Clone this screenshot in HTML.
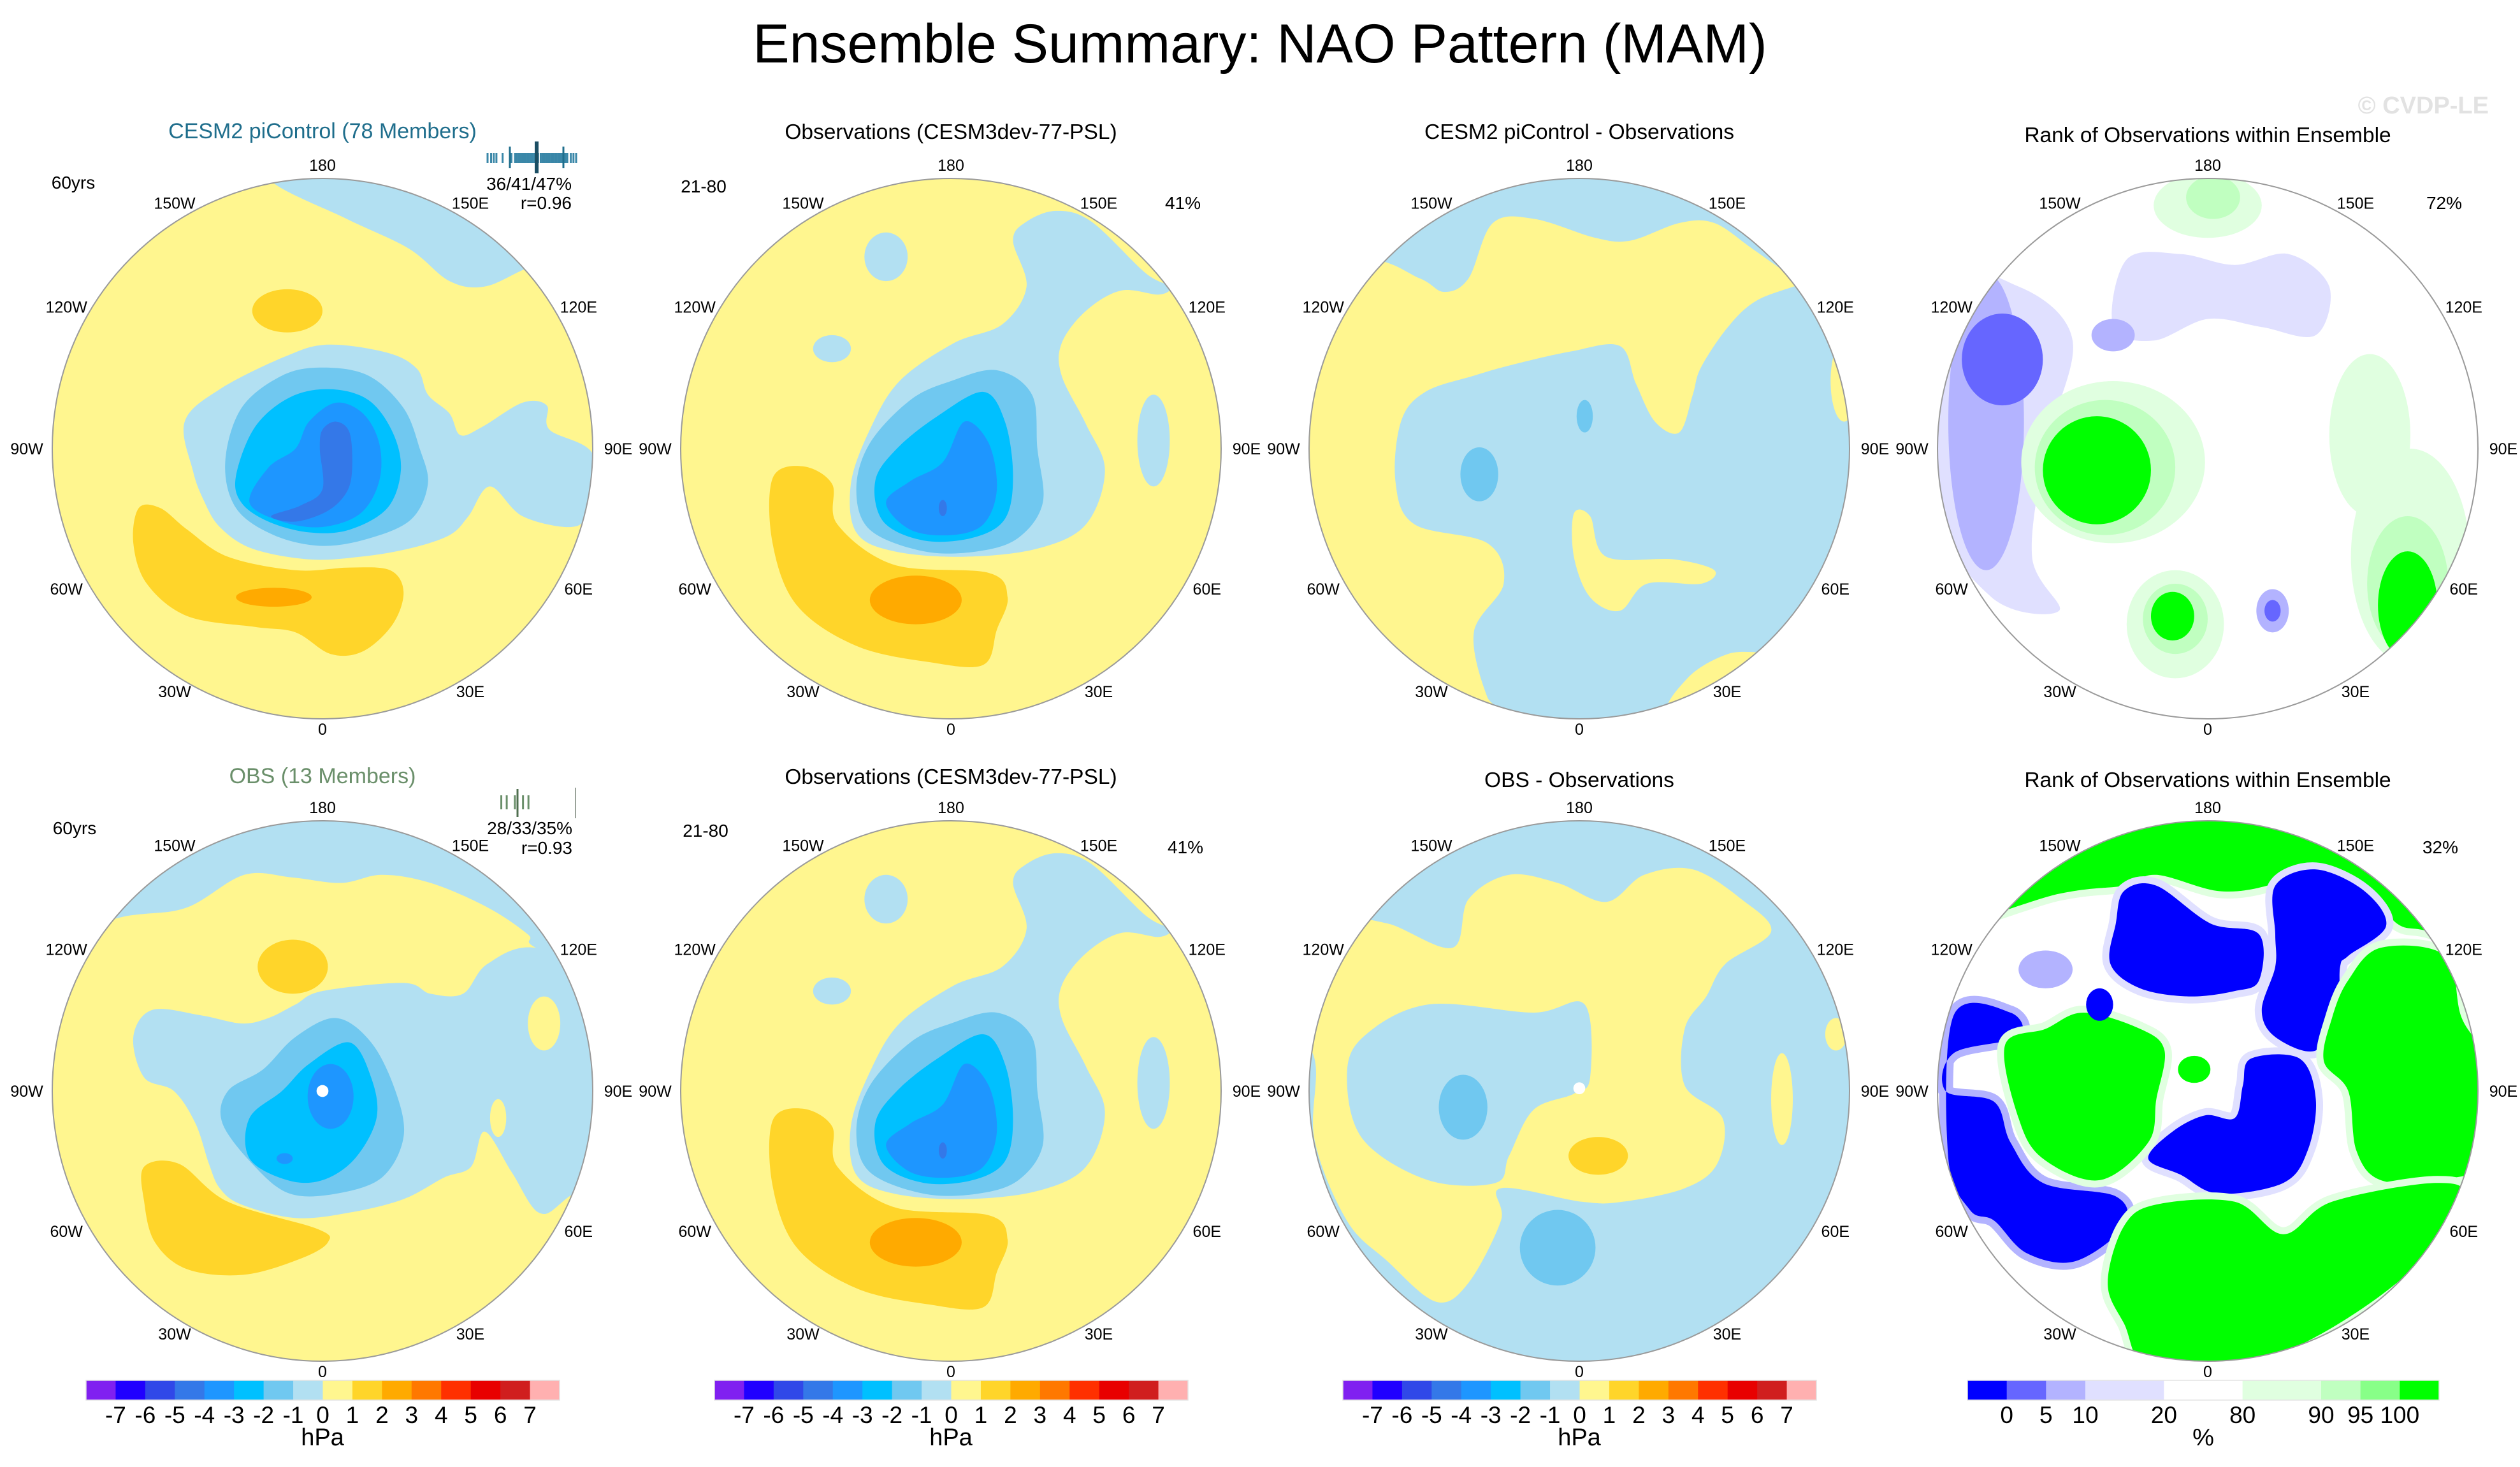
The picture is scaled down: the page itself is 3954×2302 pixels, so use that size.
<!DOCTYPE html>
<html><head><meta charset="utf-8"><title>Ensemble Summary: NAO Pattern (MAM)</title>
<style>
html,body{margin:0;padding:0;background:#fff;}
svg{display:block;font-family:"Liberation Sans",Arial,sans-serif;}
</style></head>
<body>
<svg id="fig" width="3954" height="2302" viewBox="0 0 3954 2302" xmlns="http://www.w3.org/2000/svg">
<rect x="0" y="0" width="3954" height="2302" fill="#ffffff"/>
<text x="1977" y="98" font-size="86" text-anchor="middle" fill="#000">Ensemble Summary: NAO Pattern (MAM)</text>
<text x="3905" y="178" font-size="38" font-weight="bold" text-anchor="end" fill="#e2e2e2">© CVDP-LE</text>

<text x="506" y="217" font-size="34" text-anchor="middle" fill="#1f6e8c">CESM2 piControl (78 Members)</text>
<text x="1492" y="218" font-size="33.5" text-anchor="middle" fill="#000">Observations (CESM3dev-77-PSL)</text>
<text x="2478" y="218" font-size="33.5" text-anchor="middle" fill="#000">CESM2 piControl - Observations</text>
<text x="3464" y="223" font-size="33.5" text-anchor="middle" fill="#000">Rank of Observations within Ensemble</text>
<text x="506" y="1229" font-size="34" text-anchor="middle" fill="#6a8f6a">OBS (13 Members)</text>
<text x="1492" y="1230" font-size="33.5" text-anchor="middle" fill="#000">Observations (CESM3dev-77-PSL)</text>
<text x="2478" y="1235" font-size="33.5" text-anchor="middle" fill="#000">OBS - Observations</text>
<text x="3464" y="1235" font-size="33.5" text-anchor="middle" fill="#000">Rank of Observations within Ensemble</text>

<text x="115" y="296" font-size="28" text-anchor="middle">60yrs</text>
<text x="897" y="298" font-size="28" text-anchor="end">36/41/47%</text>
<text x="897" y="328" font-size="28" text-anchor="end">r=0.96</text>
<text x="1104" y="302" font-size="28" text-anchor="middle">21-80</text>
<text x="1856" y="328" font-size="28" text-anchor="middle">41%</text>
<text x="3835" y="328" font-size="28" text-anchor="middle">72%</text>
<text x="117" y="1309" font-size="28" text-anchor="middle">60yrs</text>
<text x="898" y="1309" font-size="28" text-anchor="end">28/33/35%</text>
<text x="898" y="1340" font-size="28" text-anchor="end">r=0.93</text>
<text x="1107" y="1313" font-size="28" text-anchor="middle">21-80</text>
<text x="1860" y="1339" font-size="28" text-anchor="middle">41%</text>
<text x="3829" y="1339" font-size="28" text-anchor="middle">32%</text>
<g id="layer"></g>
</svg>
<script>
const NS='http://www.w3.org/2000/svg';
const svg=document.getElementById('layer');
const CX=[506,1492,2478,3464], CY=[704,1712], R=424;
const lonLabels=['180','150E','120E','90E','60E','30E','0','30W','60W','90W','120W','150W'];
const hpaColors=['#8020F0','#2000FF','#3048E8','#3478E8','#1E96FF','#00C0FF','#70C8F0','#B2E0F2','#FFF68F','#FFD52A','#FFAA00','#FF7800','#FF3000','#E80000','#D01E1E','#FFB0B0'];
const hpaLabels=['-7','-6','-5','-4','-3','-2','-1','0','1','2','3','4','5','6','7'];
const rankColors=['#0000FF','#6666FF','#B3B3FF','#E0E0FF','#FFFFFF','#E0FFE0','#C0FFC0','#88FF88','#00FF00'];
const rankUnits=[1,1,1,2,2,2,1,1,1];
const rankLabels=['0','5','10','20','80','90','95','100'];
const member1=[0.0,0.04,0.07,0.1,0.17,0.27,0.31,0.33,0.35,0.37,0.39,0.41,0.43,0.45,0.47,0.49,0.5,0.51,0.53,0.55,0.57,0.6,0.62,0.64,0.66,0.68,0.7,0.72,0.74,0.76,0.78,0.8,0.82,0.84,0.86,0.88,0.9,0.94,0.97,1.0];
const member2=[0.18,0.24,0.33,0.42,0.48];
const Y='#FFF68F',O1='#FFD52A',O2='#FFAA00',B1='#B2E0F2',B2='#70C8F0',B3='#00C0FF',B4='#1E96FF',B5='#3478E8';
const G='#00FF00',LG='#C0FFC0',VG='#E0FFE0',BL='#0000FF',MB='#6666FF',LB='#B3B3FF',VB='#E0E0FF';

const obsLayers=[
 {f:B1,p:[[0.39,-0.88],[0.52,-0.84],[0.72,-0.65],[0.81,-0.6],[0.77,-0.57],[0.63,-0.585],[0.5,-0.51],[0.41,-0.39],[0.41,-0.27],[0.5,-0.09],[0.57,0.08],[0.5,0.28],[0.32,0.37],[0.05,0.4],[-0.21,0.38],[-0.35,0.31],[-0.37,0.13],[-0.3,-0.07],[-0.19,-0.25],[0.01,-0.39],[0.19,-0.46],[0.28,-0.6],[0.23,-0.77],[0.28,-0.84]]},
 {f:B1,e:[-0.24,-0.71,0.08,0.09]},{f:B1,e:[-0.44,-0.37,0.07,0.05]},{f:B1,e:[0.75,-0.03,0.06,0.17]},
 {f:B2,p:[[0.17,-0.29],[0.3,-0.2],[0.32,0],[0.34,0.2],[0.25,0.33],[0.1,0.38],[-0.1,0.38],[-0.3,0.3],[-0.35,0.15],[-0.3,-0.02],[-0.15,-0.18],[0,-0.25]]},
 {f:B3,p:[[0.12,-0.21],[0.2,-0.1],[0.23,0.1],[0.2,0.26],[0.08,0.33],[-0.1,0.34],[-0.25,0.27],[-0.28,0.12],[-0.2,0],[-0.05,-0.12]]},
 {f:B4,p:[[0.05,-0.1],[0.14,-0.02],[0.17,0.15],[0.12,0.28],[0,0.32],[-0.15,0.3],[-0.24,0.2],[-0.15,0.12],[-0.03,0.05]]},
 {f:B5,e:[-0.03,0.22,0.015,0.03]},
 {f:O1,p:[[-0.66,0.11],[-0.55,0.065],[-0.44,0.13],[-0.42,0.28],[-0.21,0.43],[0.14,0.46],[0.21,0.55],[0.17,0.67],[0.12,0.8],[-0.08,0.79],[-0.35,0.73],[-0.57,0.58],[-0.66,0.35]]},
 {f:O2,e:[-0.13,0.56,0.17,0.09]}
];
const panels=[
 {c:0,r:0,bg:Y,L:[
  {f:B1,p:[[-0.19,-1.1],[-0.19,-0.99],[0.09,-0.85],[0.32,-0.74],[0.47,-0.62],[0.6,-0.6],[0.75,-0.665],[0.95,-0.75],[0.6,-1.1]]},
  {f:O1,e:[-0.13,-0.51,0.13,0.08]},
  {f:B1,p:[[-0.51,-0.1],[-0.38,-0.22],[-0.14,-0.34],[0.02,-0.385],[0.24,-0.355],[0.35,-0.295],[0.39,-0.2],[0.47,-0.13],[0.51,-0.05],[0.59,-0.08],[0.74,-0.17],[0.83,-0.16],[0.84,-0.07],[1,0.02],[0.98,0.23],[0.92,0.29],[0.74,0.25],[0.62,0.14],[0.54,0.25],[0.47,0.32],[0.32,0.37],[0.14,0.4],[-0.05,0.41],[-0.26,0.37],[-0.38,0.29],[-0.44,0.19],[-0.48,0.08]]},
  {f:B2,p:[[-0.36,0.05],[-0.3,-0.15],[-0.15,-0.27],[0,-0.3],[0.17,-0.27],[0.3,-0.15],[0.36,0],[0.39,0.13],[0.33,0.26],[0.18,0.33],[0,0.36],[-0.18,0.32],[-0.32,0.22]]},
  {f:B3,p:[[-0.32,0.1],[-0.25,-0.08],[-0.12,-0.19],[0.03,-0.22],[0.17,-0.18],[0.26,-0.06],[0.29,0.08],[0.24,0.22],[0.1,0.3],[-0.05,0.31],[-0.2,0.27],[-0.3,0.2]]},
  {f:B4,p:[[-0.27,0.2],[-0.2,0.07],[-0.1,0],[-0.05,-0.1],[0.05,-0.17],[0.15,-0.13],[0.21,-0.02],[0.21,0.12],[0.14,0.24],[0,0.29],[-0.15,0.27]]},
  {f:B5,p:[[-0.19,0.25],[-0.08,0.21],[0,0.15],[-0.01,0],[0,-0.07],[0.05,-0.1],[0.1,-0.06],[0.11,0.07],[0.09,0.16],[0.02,0.23],[-0.1,0.27]]},
  {f:O1,p:[[-0.68,0.22],[-0.6,0.22],[-0.5,0.3],[-0.35,0.4],[-0.1,0.45],[0.1,0.44],[0.25,0.45],[0.3,0.53],[0.26,0.65],[0.15,0.75],[0.03,0.76],[-0.1,0.68],[-0.25,0.66],[-0.5,0.62],[-0.65,0.5],[-0.7,0.35]]},
  {f:O2,e:[-0.18,0.55,0.14,0.035]}
 ]},
 {c:1,r:0,bg:Y,L:obsLayers},
 {c:2,r:0,bg:B1,L:[
  {f:Y,p:[[-1.2,1.2],[-0.25,1.05],[-0.34,0.92],[-0.39,0.68],[-0.28,0.5],[-0.34,0.35],[-0.61,0.28],[-0.68,0.125],[-0.66,-0.1],[-0.57,-0.21],[-0.39,-0.27],[-0.25,-0.31],[-0.03,-0.36],[0.15,-0.38],[0.21,-0.24],[0.28,-0.1],[0.37,-0.06],[0.42,-0.2],[0.45,-0.3],[0.55,-0.45],[0.66,-0.55],[0.84,-0.62],[0.77,-0.65],[0.64,-0.74],[0.5,-0.835],[0.37,-0.835],[0.19,-0.77],[0.06,-0.78],[-0.165,-0.85],[-0.32,-0.835],[-0.41,-0.63],[-0.5,-0.58],[-0.59,-0.63],[-0.8,-0.7],[-1.2,-0.6]]},
  {f:Y,e:[0.98,-0.25,0.05,0.15]},
  {f:Y,p:[[-0.02,0.24],[0.04,0.25],[0.1,0.4],[0.35,0.41],[0.5,0.45],[0.45,0.5],[0.25,0.5],[0.15,0.6],[0.04,0.55],[-0.02,0.4]]},
  {f:Y,p:[[0.33,1.0],[0.4,0.85],[0.55,0.76],[0.7,0.75],[0.8,0.7],[1.1,0.8],[0.6,1.1]]},
  {f:B2,e:[-0.37,0.095,0.07,0.1]},{f:B2,e:[0.02,-0.12,0.03,0.06]}
 ]},
 {c:3,r:0,bg:'#FFFFFF',L:[
  {f:VB,p:[[-0.35,-0.45],[-0.3,-0.7],[-0.1,-0.72],[0.1,-0.68],[0.3,-0.72],[0.45,-0.6],[0.4,-0.42],[0.2,-0.45],[0,-0.48],[-0.2,-0.4]]},
  {f:VB,p:[[-0.99,-0.6],[-0.7,-0.6],[-0.5,-0.4],[-0.6,0.0],[-0.65,0.4],[-0.55,0.6],[-0.8,0.55],[-1,0.2]]},
  {f:LB,e:[-0.82,-0.1,0.14,0.55]},
  {f:MB,e:[-0.76,-0.33,0.15,0.17]},
  {f:LB,e:[-0.35,-0.42,0.08,0.06]},
  {f:VG,e:[-0.35,0.05,0.34,0.3]},
  {f:LG,e:[-0.38,0.07,0.26,0.25]},
  {f:G,e:[-0.41,0.08,0.2,0.2]},
  {f:VG,e:[0.0,-0.9,0.2,0.12]},{f:LG,e:[0.02,-0.93,0.1,0.08]},
  {f:VG,e:[-0.12,0.65,0.18,0.2]},{f:LG,e:[-0.12,0.63,0.12,0.13]},{f:G,e:[-0.13,0.62,0.08,0.09]},
  {f:LB,e:[0.24,0.6,0.06,0.08]},{f:MB,e:[0.24,0.6,0.03,0.04]},
  {f:VG,e:[0.75,0.4,0.22,0.4]},{f:LG,e:[0.74,0.5,0.15,0.25]},{f:G,e:[0.74,0.58,0.11,0.2]},
  {f:VG,e:[0.6,-0.05,0.15,0.3]}
 ]},
 {c:0,r:1,bg:Y,L:[
  {f:B1,p:[[-1.1,-0.6],[-0.71,-0.65],[-0.5,-0.68],[-0.29,-0.8],[-0.11,-0.79],[0.07,-0.77],[0.22,-0.8],[0.4,-0.77],[0.61,-0.68],[0.76,-0.58],[0.79,-0.53],[1.1,-0.4],[0.5,-1.2],[-0.5,-1.2]]},
  {f:B1,p:[[0.79,-0.53],[0.61,-0.47],[0.52,-0.36],[0.4,-0.36],[0.3,-0.4],[0,-0.37],[-0.1,-0.32],[-0.2,-0.27],[-0.3,-0.25],[-0.45,-0.28],[-0.63,-0.3],[-0.7,-0.2],[-0.66,-0.05],[-0.55,0],[-0.47,0.12],[-0.42,0.27],[-0.38,0.36],[-0.3,0.42],[-0.1,0.47],[0.1,0.45],[0.3,0.4],[0.45,0.32],[0.55,0.28],[0.6,0.15],[0.7,0.3],[0.8,0.45],[0.9,0.4],[1.1,0.2],[1.1,-0.4]]},
  {f:Y,e:[0.82,-0.25,0.06,0.1]},{f:Y,e:[0.65,0.1,0.03,0.07]},
  {f:O1,e:[-0.11,-0.46,0.13,0.1]},
  {f:B2,p:[[0.05,-0.27],[0.18,-0.18],[0.27,0],[0.3,0.17],[0.22,0.32],[0.05,0.38],[-0.12,0.38],[-0.25,0.28],[-0.37,0.12],[-0.35,0],[-0.22,-0.08],[-0.1,-0.2]]},
  {f:B3,p:[[0.1,-0.18],[0.18,-0.05],[0.2,0.1],[0.12,0.25],[0,0.33],[-0.13,0.33],[-0.27,0.25],[-0.27,0.1],[-0.15,0],[-0.05,-0.1]]},
  {f:B4,e:[0.03,0.02,0.085,0.12]},{f:B4,e:[-0.14,0.25,0.03,0.02]},
  {f:O1,p:[[-0.66,0.28],[-0.53,0.27],[-0.35,0.41],[-0.02,0.51],[0.02,0.56],[-0.08,0.62],[-0.29,0.68],[-0.5,0.66],[-0.62,0.56],[-0.66,0.41]]},
  {f:'#FFFFFF',e:[0,0,0.022,0.022]}
 ]},
 {c:1,r:1,bg:Y,L:obsLayers},
 {c:2,r:1,bg:B1,L:[
  {f:Y,p:[[-1.1,-0.3],[-0.96,-0.37],[-0.86,-0.61],[-0.71,-0.62],[-0.47,-0.53],[-0.41,-0.71],[-0.26,-0.8],[-0.08,-0.77],[0.1,-0.7],[0.24,-0.8],[0.42,-0.82],[0.6,-0.71],[0.71,-0.59],[0.54,-0.47],[0.47,-0.35],[0.39,-0.23],[0.39,-0.02],[0.53,0.1],[0.51,0.27],[0.39,0.36],[0.16,0.41],[0.01,0.41],[-0.29,0.36],[-0.29,0.48],[-0.41,0.71],[-0.53,0.78],[-0.71,0.63],[-0.86,0.48],[-0.98,0.18],[-0.98,-0.12]]},
  {f:B1,p:[[-0.8,-0.2],[-0.56,-0.32],[-0.17,-0.29],[0.02,-0.32],[0.04,-0.05],[-0.02,0.01],[-0.17,0.07],[-0.26,0.24],[-0.31,0.34],[-0.56,0.33],[-0.8,0.18],[-0.86,-0.05]]},
  {f:B2,e:[-0.43,0.06,0.09,0.12]},{f:B2,e:[-0.08,0.58,0.14,0.14]},
  {f:O1,e:[0.07,0.24,0.11,0.07]},
  {f:Y,e:[0.75,0.03,0.04,0.17]},{f:Y,e:[0.95,-0.21,0.04,0.06]},
  {f:'#FFFFFF',e:[0,-0.01,0.022,0.022]}
 ]},
 {c:3,r:1,bg:'#FFFFFF',L:[
  {f:G,s:VG,p:[[-1.1,-0.6],[-0.55,-0.73],[-0.31,-0.76],[-0.19,-0.8],[0.04,-0.74],[0.22,-0.76],[0.34,-0.82],[0.58,-0.76],[0.7,-0.62],[0.82,-0.59],[1.1,-0.5],[0.5,-1.2],[-0.5,-1.2]]},
  {f:BL,s:VB,p:[[-0.31,-0.74],[-0.19,-0.76],[0.01,-0.62],[0.19,-0.58],[0.19,-0.41],[0.1,-0.37],[-0.07,-0.35],[-0.25,-0.38],[-0.36,-0.47],[-0.34,-0.62]]},
  {f:BL,s:VB,p:[[0.4,-0.82],[0.58,-0.74],[0.66,-0.61],[0.52,-0.5],[0.49,-0.46],[0.48,-0.3],[0.4,-0.15],[0.25,-0.2],[0.2,-0.3],[0.25,-0.46],[0.25,-0.58],[0.25,-0.76]]},
  {f:BL,s:VB,p:[[0.16,-0.12],[0.34,-0.12],[0.4,0.03],[0.37,0.22],[0.28,0.34],[0.04,0.38],[-0.1,0.31],[-0.22,0.25],[-0.13,0.15],[-0.01,0.09],[0.1,0.1],[0.13,-0.02]]},
  {f:BL,s:LB,p:[[-0.94,-0.28],[-0.73,-0.29],[-0.7,-0.2],[-0.94,-0.14],[-0.97,0],[-0.79,0.04],[-0.73,0.19],[-0.61,0.34],[-0.34,0.39],[-0.31,0.5],[-0.49,0.63],[-0.67,0.6],[-0.79,0.48],[-0.88,0.44],[-0.96,0.25]]},
  {f:G,s:VG,p:[[-0.46,-0.29],[-0.25,-0.23],[-0.16,-0.15],[-0.19,0.03],[-0.22,0.19],[-0.4,0.33],[-0.61,0.25],[-0.7,0.1],[-0.75,-0.17],[-0.6,-0.23]]},
  {f:G,s:VG,p:[[0.64,-0.53],[0.88,-0.5],[0.94,-0.27],[1.05,-0.08],[1.05,0.25],[0.85,0.33],[0.64,0.33],[0.55,0.22],[0.52,0],[0.43,-0.11],[0.46,-0.27],[0.52,-0.41]]},
  {f:G,s:VG,p:[[-0.19,0.42],[0.1,0.41],[0.28,0.53],[0.46,0.41],[0.85,0.34],[0.94,0.41],[0.7,0.71],[0.25,0.98],[-0.19,1.05],[-0.31,0.86],[-0.37,0.71],[-0.31,0.5]]},
  {f:G,e:[-0.05,-0.08,0.06,0.05]},
  {f:LB,e:[-0.6,-0.45,0.1,0.07]},{f:BL,e:[-0.4,-0.32,0.05,0.06]}
 ]}
];

function el(tag,attrs,parent){const e=document.createElementNS(NS,tag);for(const k in attrs)e.setAttribute(k,attrs[k]);(parent||svg).appendChild(e);return e;}
function smooth(pts,cx,cy){
 const P=pts.map(p=>[cx+p[0]*R,cy+p[1]*R]);const n=P.length;let d='M'+P[0][0].toFixed(1)+','+P[0][1].toFixed(1);
 for(let i=0;i<n;i++){const p0=P[(i-1+n)%n],p1=P[i],p2=P[(i+1)%n],p3=P[(i+2)%n];
  const c1=[p1[0]+(p2[0]-p0[0])/6,p1[1]+(p2[1]-p0[1])/6],c2=[p2[0]-(p3[0]-p1[0])/6,p2[1]-(p3[1]-p1[1])/6];
  d+='C'+c1[0].toFixed(1)+','+c1[1].toFixed(1)+' '+c2[0].toFixed(1)+','+c2[1].toFixed(1)+' '+p2[0].toFixed(1)+','+p2[1].toFixed(1);}
 return d+'Z';}

const defs=el('defs',{});
panels.forEach((pn,idx)=>{
 const cx=CX[pn.c],cy=CY[pn.r];
 const cp=el('clipPath',{id:'clip'+idx},defs);el('circle',{cx:cx,cy:cy,r:R},cp);
 const g=el('g',{'clip-path':'url(#clip'+idx+')'});
 
 
 el('circle',{cx:cx,cy:cy,r:R,fill:pn.bg},g);
 pn.L.forEach((ly,j)=>{
  let s;
  if(ly.e){s=el('ellipse',{cx:cx+ly.e[0]*R,cy:cy+ly.e[1]*R,rx:ly.e[2]*R,ry:ly.e[3]*R,fill:ly.f},g);}
  else{s=el('path',{d:smooth(ly.p,cx,cy),fill:ly.f},g);}
  if(ly.s){s.setAttribute('stroke',ly.s);s.setAttribute('stroke-width','22');s.setAttribute('paint-order','stroke');}
  
  
 });
 const b=el('circle',{cx:cx,cy:cy,r:R,fill:'none',stroke:'#9a9a9a','stroke-width':2});
 
 
 lonLabels.forEach((t,k)=>{
  const th=k*30*Math.PI/180;const x=cx+464*Math.sin(th);const c=Math.cos(th);const y=cy-(c>=0?445:440)*c;
  const tx=el('text',{x:x.toFixed(1),y:(y+9).toFixed(1),'font-size':25,'text-anchor':'middle',fill:'#000'});
  tx.textContent=t;
  
  
 });
});

function strip(vals,x0,x1,y0,y1,col,name){
 const g=el('g',{});
 
 
 vals.forEach(v=>{const x=x0+v*(x1-x0);const ln=el('line',{x1:x,x2:x,y1:y0,y2:y1,stroke:col,'stroke-width':3},g);
  
  });
 return g;}
const g1=strip(member1,765,904,240,256,'#3a87a8','member-strip-cesm2');
[[800,230,264,3,'#1f6e8c'],[884,230,264,3,'#1f6e8c'],[842,222,272,6,'#1b4e63']].forEach(a=>el('line',{x1:a[0],x2:a[0],y1:a[1],y2:a[2],stroke:a[4],'stroke-width':a[3]},g1));
const g2=strip(member2,761,903,1248,1270,'#6a8f6a','member-strip-obs');
[[812,1238,1282,3,'#4f6f4f'],[903,1236,1284,2,'#9aa39a']].forEach(a=>el('line',{x1:a[0],x2:a[0],y1:a[1],y2:a[2],stroke:a[4],'stroke-width':a[3]},g2));

[0,1,2].forEach(c=>{
 const x0=CX[c]-371,w=743/16,y0=2166,h=31;
 const g=el('g',{});
 
 
 hpaColors.forEach((col,i)=>{const r=el('rect',{x:x0+i*w,y:y0,width:w+0.5,height:h,fill:col},g);
  
  });
 el('rect',{x:x0,y:y0,width:743,height:h,fill:'none',stroke:'#e4e4e4','stroke-width':1.5},g);
 hpaLabels.forEach((t,i)=>{const tx=el('text',{x:x0+(i+1)*w,y:2233,'font-size':37,'text-anchor':'middle'},g);tx.textContent=t;
  
  });
 const u=el('text',{x:CX[c],y:2268,'font-size':38,'text-anchor':'middle'},g);u.textContent='hPa';
 
 
});
(function(){
 const x0=3087,W=740,unit=W/12,y0=2166,h=31;let x=x0;
 const g=el('g',{});
 
 
 const bounds=[];
 rankColors.forEach((col,i)=>{const w=rankUnits[i]*unit;const r=el('rect',{x:x,y:y0,width:w+0.5,height:h,fill:col},g);
  
  
  x+=w;bounds.push(x);});
 el('rect',{x:x0,y:y0,width:W,height:h,fill:'none',stroke:'#e4e4e4','stroke-width':1.5},g);
 rankLabels.forEach((t,i)=>{const tx=el('text',{x:bounds[i],y:2233,'font-size':37,'text-anchor':'middle'},g);tx.textContent=t;
  
  });
 const u=el('text',{x:x0+W/2,y:2268,'font-size':38,'text-anchor':'middle'},g);u.textContent='%';
 
 
})();
</script>
</body></html>
